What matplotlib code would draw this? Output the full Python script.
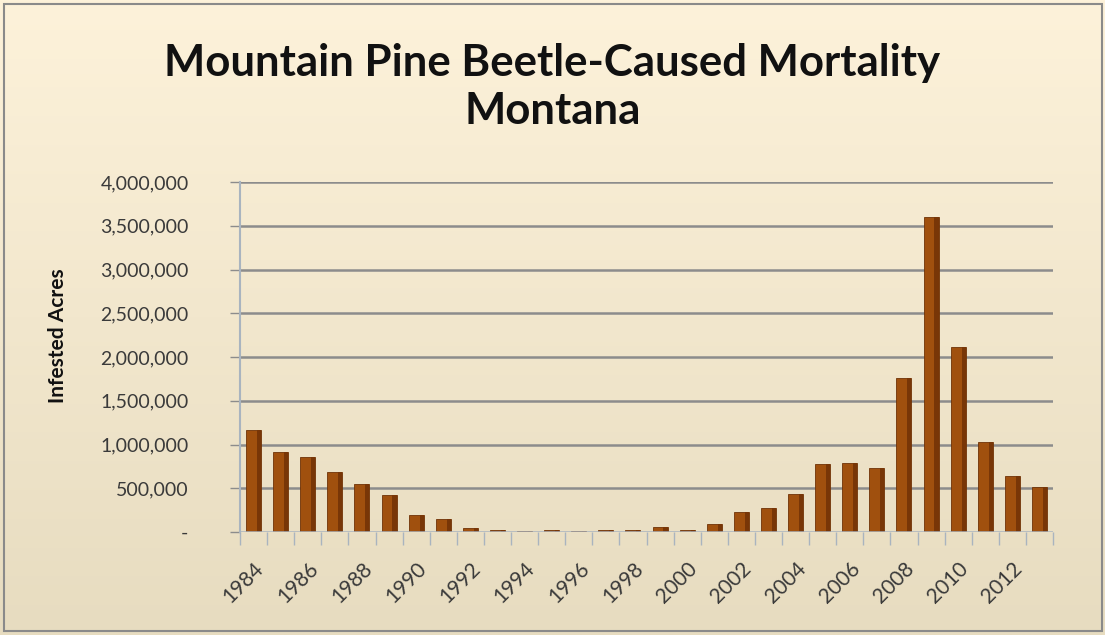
"""Mountain Pine Beetle-caused mortality in Montana, Excel-style column chart."""

import matplotlib

matplotlib.use("Agg")
import matplotlib.pyplot as plt
import numpy as np
from matplotlib.patches import Rectangle
from matplotlib.ticker import FuncFormatter, FixedLocator

years = list(range(1984, 2014))
infested_acres = [
    1170000, 920000, 860000, 690000, 550000, 420000, 190000, 150000, 46000, 20000,
    10000, 20000, 15000, 20000, 20000, 57000, 20000, 92000, 229000, 275000,
    440000, 775000, 785000, 735000, 1760000, 3600000, 2120000, 1025000, 645000, 515000,
]
tick_years = years[::2]  # 1984 .. 2012
y_ticks = [0, 500000, 1000000, 1500000, 2000000, 2500000, 3000000, 3500000, 4000000]

title = "Mountain Pine Beetle-Caused Mortality\nMontana"
y_label = "Infested Acres"

plt.rcParams["font.family"] = ["Lato", "DejaVu Sans"]

fig = plt.figure(figsize=(11.05, 6.35), dpi=100)

# Background gradient (cream at top to tan at bottom)
bg = fig.add_axes([0, 0, 1, 1], zorder=-10)
top_col = np.array([253, 242, 218]) / 255
bot_col = np.array([231, 220, 192]) / 255
t = np.linspace(0, 1, 256)[:, None, None]
grad = top_col * (1 - t) + bot_col * t
grad = np.repeat(grad, 2, axis=1)
bg.imshow(grad, aspect="auto", extent=[0, 1, 0, 1], origin="upper")
bg.set_axis_off()

# Outer frame
fig.patches.append(
    Rectangle((4 / 1105, 4 / 635), 1098 / 1105, 627 / 635, transform=fig.transFigure,
              fill=False, edgecolor="#8a8a8a", linewidth=1.5)
)

ax = fig.add_axes([240 / 1105, 1 - 532 / 635, 813 / 1105, 350 / 635])
ax.set_facecolor("none")

x = np.arange(len(years))
ax.bar(x, infested_acres, width=0.55, color="#a0500e", edgecolor="#6e3206",
       linewidth=0.6, zorder=3)
# darker right side to hint at the 3D column face
ax.bar(x + 0.2, infested_acres, width=0.15, color="#783607", linewidth=0, zorder=4)

ax.set_xlim(-0.5, len(years) - 0.5)
ax.set_ylim(0, 4000000)

# gridlines
for v in y_ticks[1:]:
    ax.axhline(v, color="#8c8c8c", linewidth=1.8, zorder=1)
ax.axhline(0, color="#a9b4bf", linewidth=1.8, zorder=5)

for side in ["top", "right", "bottom"]:
    ax.spines[side].set_visible(False)
ax.spines["left"].set_color("#a9b4bf")
ax.spines["left"].set_linewidth(1.5)

ax.yaxis.set_major_locator(FixedLocator(y_ticks))
ax.yaxis.set_major_formatter(
    FuncFormatter(lambda v, pos: "-" if v == 0 else f"{int(v):,}")
)
ax.tick_params(axis="y", length=7, width=1, color="#8c8c8c", pad=30,
               labelsize=14, labelcolor="#3a3a3a")

# x ticks at category boundaries, labels every second year
ax.set_xticks(np.arange(-0.5, len(years)), minor=True)
ax.set_xticks([years.index(yr) for yr in tick_years])
ax.set_xticklabels([str(yr) for yr in tick_years], rotation=45, ha="right",
                   rotation_mode="anchor", fontsize=15, color="#3a3a3a")
ax.tick_params(axis="x", which="major", length=0, pad=19)
ax.tick_params(axis="x", which="minor", length=9, width=1, color="#a9b4bf")

ax.set_ylabel(y_label, fontsize=15, fontweight="bold", color="#111111")
ax.yaxis.set_label_coords(-0.212, 0.56)

fig.text(0.5, 0.863, title, ha="center", va="center", fontsize=31.5,
         fontweight="bold", color="#111111", linespacing=1.25)

fig.savefig("out.png", dpi=100)
